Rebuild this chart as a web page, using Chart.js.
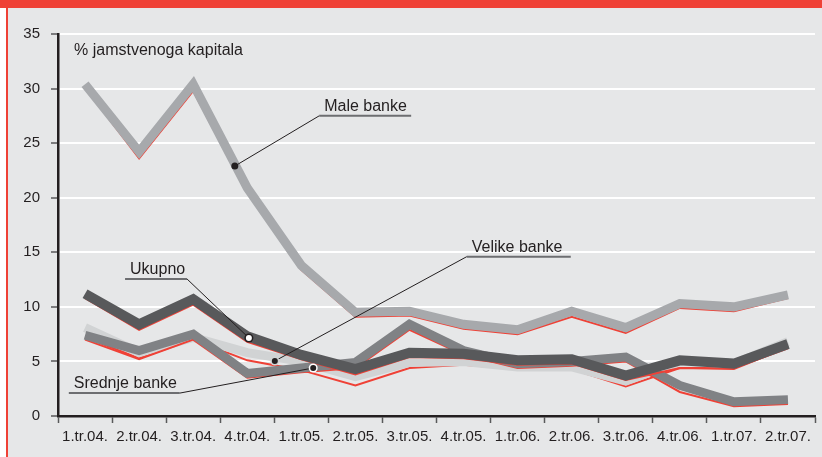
<!DOCTYPE html>
<html>
<head>
<meta charset="utf-8">
<script src="https://cdn.jsdelivr.net/npm/chart.js@4/dist/chart.umd.min.js"></script>
<style>
  html, body { margin: 0; padding: 0; background: #fff; }
  canvas { display: block; }
</style>
</head>
<body>
<canvas id="chart" width="822" height="457"></canvas>
<script>
const quarters = ['1.tr.04.', '2.tr.04.', '3.tr.04.', '4.tr.04.', '1.tr.05.', '2.tr.05.', '3.tr.05.',
  '4.tr.05.', '1.tr.06.', '2.tr.06.', '3.tr.06.', '4.tr.06.', '1.tr.07.', '2.tr.07.'];
const yTicks = [0, 5, 10, 15, 20, 25, 30, 35];

// grey = thick line, red = thin line under it
const maleBanke      = [30.4, 24.2, 30.4, 20.9, 13.8, 9.5, 9.6, 8.4, 7.9, 9.6, 8.1, 10.3, 10.0, 11.1];
const maleBankeRed   = [30.1, 23.6, 29.8, 20.5, 13.4, 9.1, 9.2, 8.0, 7.5, 9.1, 7.6, 9.9, 9.6, 10.8];
const ukupno         = [11.2, 8.4, 10.7, 7.3, 5.6, 4.3, 5.8, 5.7, 5.1, 5.2, 3.7, 5.1, 4.8, 6.6];
const ukupnoRed      = [10.8, 7.9, 10.2, 6.8, 5.2, 3.8, 5.4, 5.3, 4.7, 4.8, 3.3, 4.4, 4.3, 6.3];
const srednjeBanke   = [7.4, 6.0, 7.5, 3.9, 4.4, 4.9, 8.4, 6.0, 4.8, 5.0, 5.4, 2.8, 1.3, 1.5];
const srednjeBankeRed= [7.0, 5.2, 7.0, 3.5, 4.0, 4.4, 7.9, 5.6, 4.4, 4.6, 5.0, 2.2, 0.9, 1.1];
const velikeBanke    = [8.1, 5.8, 7.2, 5.8, 5.0, 3.6, 4.9, 5.0, 4.5, 4.5, 3.2, 5.0, 4.8, 6.8];
const velikeBankeRed = [7.2, 5.3, 7.0, 5.1, 4.2, 2.8, 4.4, 4.7, 4.3, 4.3, 2.7, 4.4, 4.4, 6.2];

const FONT = '"Liberation Sans", Arial, sans-serif';
const TEXT = '#231f20';
const RED = '#ef4136';

// labels with underline + leader line to a dot on the series (data units)
const callouts = [
  { text: 'Male banke', at: [4.33, 27.5], width: 92, from: 'left', dot: [2.77, 22.9], dotFill: '#231f20', ring: null },
  { text: 'Velike banke', at: [7.06, 14.6], width: 104, from: 'left', dot: [3.51, 5.04], dotFill: '#231f20', ring: '#d1d3d4' },
  { text: 'Ukupno', at: [0.74, 12.55], width: 62, from: 'right', dot: [3.03, 7.15], dotFill: '#ffffff', ring: '#231f20' },
  { text: 'Srednje banke', at: [-0.3, 2.1], width: 111, from: 'right', dot: [4.22, 4.4], dotFill: '#231f20', ring: '#ffffff' },
];

const frame = {
  id: 'frame',
  beforeDraw(chart) {
    const { ctx, width, height } = chart;
    ctx.save();
    ctx.fillStyle = '#ffffff';
    ctx.fillRect(0, 0, width, height);
    ctx.fillStyle = '#e6e7e8';
    ctx.fillRect(6, 0, width - 6, height);
    ctx.fillStyle = RED;
    ctx.fillRect(0, 0, width, 8);
    ctx.fillRect(6, 8, 2, height - 8);
    ctx.restore();
  },
  afterDraw(chart) {
    const { ctx } = chart;
    const x = chart.scales.x, y = chart.scales.y;
    const px = (i) => x.getPixelForValue(0) + i * (x.getPixelForValue(1) - x.getPixelForValue(0));
    ctx.save();
    ctx.font = '16px ' + FONT;
    ctx.fillStyle = TEXT;
    ctx.fillText('% jamstvenoga kapitala', 74, 55);

    callouts.forEach((c) => {
      const lx = px(c.at[0]), ly = y.getPixelForValue(c.at[1]);
      const dx = px(c.dot[0]), dy = y.getPixelForValue(c.dot[1]);
      const sx = c.from === 'left' ? lx : lx + c.width;
      ctx.strokeStyle = '#231f20';
      ctx.lineWidth = 1;
      ctx.beginPath();
      ctx.moveTo(sx, ly);
      ctx.lineTo(dx, dy);
      ctx.stroke();
      ctx.strokeStyle = '#6d6e71';
      ctx.lineWidth = 2;
      ctx.beginPath();
      ctx.moveTo(lx, ly);
      ctx.lineTo(lx + c.width, ly);
      ctx.stroke();
      ctx.fillStyle = TEXT;
      ctx.textBaseline = 'alphabetic';
      ctx.fillText(c.text, lx + 5, ly - 5);
      if (c.ring) {
        ctx.fillStyle = c.ring;
        ctx.beginPath();
        ctx.arc(dx, dy, 4.5, 0, Math.PI * 2);
        ctx.fill();
      }
      ctx.fillStyle = c.dotFill;
      ctx.beginPath();
      ctx.arc(dx, dy, c.ring ? 3 : 3.5, 0, Math.PI * 2);
      ctx.fill();
    });
    ctx.restore();
  },
};

function series(data, color, width, order) {
  return {
    data,
    borderColor: color,
    borderWidth: width,
    pointRadius: 0,
    tension: 0,
    fill: false,
    borderJoinStyle: 'miter',
    borderCapStyle: 'butt',
    order,
  };
}

new Chart(document.getElementById('chart'), {
  type: 'line',
  data: {
    labels: quarters,
    datasets: [
      series(ukupno, '#58595b', 10, 1),
      series(ukupnoRed, RED, 2, 2),
      series(srednjeBanke, '#808285', 9, 3),
      series(srednjeBankeRed, RED, 2, 4),
      series(maleBanke, '#a7a9ac', 9, 5),
      series(maleBankeRed, RED, 2, 6),
      series(velikeBanke, '#d1d3d4', 9, 7),
      series(velikeBankeRed, RED, 2, 8),
    ],
  },
  options: {
    responsive: false,
    animation: false,
    layout: { padding: { left: 0, right: 7, top: 34, bottom: 0 } },
    plugins: { legend: { display: false }, tooltip: { enabled: false } },
    scales: {
      x: {
        offset: true,
        grid: { offset: true, drawOnChartArea: false, tickLength: 7, tickColor: '#58595b', tickWidth: 1.5 },
        border: { color: TEXT, width: 2.5 },
        ticks: { color: TEXT, font: { family: FONT, size: 15 }, padding: 5, maxRotation: 0, autoSkip: false },
        afterFit: (s) => { s.height = 41; },
      },
      y: {
        min: 0,
        max: 35,
        afterBuildTicks: (s) => { s.ticks = yTicks.map((v) => ({ value: v })); },
        grid: { color: '#ffffff', lineWidth: 2, tickLength: 7, tickColor: '#58595b', tickWidth: 1.5 },
        border: { color: TEXT, width: 2.5 },
        ticks: { color: TEXT, font: { family: FONT, size: 15 }, padding: 11 },
        afterFit: (s) => { s.width = 58; },
      },
    },
  },
  plugins: [frame],
});
</script>
</body>
</html>
